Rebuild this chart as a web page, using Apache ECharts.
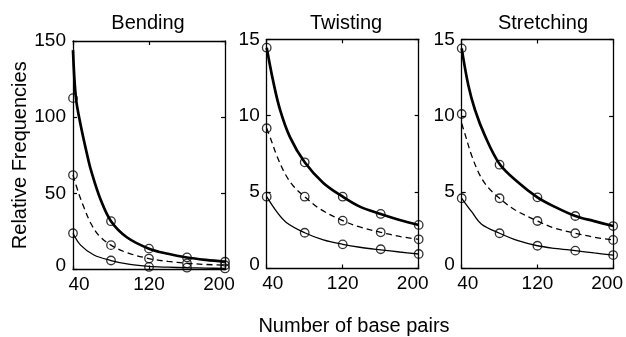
<!DOCTYPE html>
<html>
<head>
<meta charset="utf-8">
<script src="https://cdn.jsdelivr.net/npm/echarts@6/dist/echarts.min.js"></script>
<style>html,body{margin:0;padding:0;background:#fff}#c{width:626px;height:337px}</style>
</head>
<body>
<div id="c"></div>
<script>
// ---- data ----
const panelTitles = ['Bending', 'Twisting', 'Stretching'];
const xMarks = [40, 80, 120, 160, 200];
const xTickLabels = [40, 120, 200];
const bendYTicks = [0, 50, 100, 150];
const smallYTicks = [0, 5, 10, 15];

// Bending
const bendTopMarks = [112.5, 31.7, 13.7, 7.9, 5.1];
const bendMidMarks = [62, 16, 7.2, 4, 2.8];
const bendLowMarks = [23.8, 5.9, 1.7, 1.2, 0.7];
const bendTopCurveX = [40, 43, 48, 55, 59, 69, 80, 97, 120, 140, 160, 180, 200];
const bendTopCurveY = [144, 113, 95, 75, 65, 46, 31.7, 21, 13.7, 10.3, 7.9, 6.3, 5.1];
const bendMidCurveX = [40, 46, 52, 59, 67, 80, 97, 120, 140, 160, 180, 200];
const bendMidCurveY = [62, 50, 40, 30, 22.5, 16, 11, 7.2, 5.3, 4.1, 3.3, 2.8];
const bendLowCurveX = [40, 48, 62, 80, 100, 120, 140, 160, 180, 200];
const bendLowCurveY = [23.8, 16, 9.5, 5.9, 3.3, 2.0, 1.5, 1.15, 0.9, 0.7];

// Twisting
const twistTopMarks = [14.45, 6.95, 4.7, 3.57, 2.85];
const twistMidMarks = [9.18, 4.7, 3.13, 2.37, 1.91];
const twistLowMarks = [4.7, 2.34, 1.58, 1.26, 0.95];
const twistTopCurveX = [40, 47, 54, 64.5, 80, 99.6, 120, 138, 160, 180, 200];
const twistTopCurveY = [14.45, 12.2, 10.4, 8.6, 6.95, 5.6, 4.7, 4.05, 3.57, 3.17, 2.85];
const twistMidCurveX = [40, 45.3, 50.5, 59.3, 68, 80, 96, 120, 138, 160, 180, 200];
const twistMidCurveY = [9.18, 8.3, 7.4, 6.2, 5.4, 4.7, 3.9, 3.13, 2.72, 2.37, 2.1, 1.91];
const twistLowCurveX = [40, 50.5, 61, 80, 99.6, 120, 138, 160, 180, 200];
const twistLowCurveY = [4.7, 3.72, 3.0, 2.34, 1.87, 1.58, 1.39, 1.22, 1.08, 0.95];

// Stretching
const stretchTopMarks = [14.42, 6.8, 4.66, 3.44, 2.78];
const stretchMidMarks = [10.12, 4.6, 3.11, 2.31, 1.87];
const stretchLowMarks = [4.6, 2.31, 1.49, 1.17, 0.88];
const stretchTopCurveX = [40, 47, 54, 64.5, 80, 99.5, 120, 138, 160, 180, 200];
const stretchTopCurveY = [14.42, 12.0, 10.4, 8.7, 6.85, 5.65, 4.66, 4.05, 3.44, 3.1, 2.78];
const stretchMidCurveX = [40, 44, 50.5, 59.3, 68, 80, 96, 120, 138, 160, 180, 200];
const stretchMidCurveY = [9.5, 8.7, 7.4, 6.1, 5.3, 4.6, 3.85, 3.11, 2.65, 2.31, 2.05, 1.87];
const stretchLowCurveX = [40, 50.5, 61, 80, 99.5, 120, 138, 160, 180, 200];
const stretchLowCurveY = [4.6, 3.72, 2.9, 2.31, 1.82, 1.49, 1.32, 1.17, 1.02, 0.88];

// ---- chart ----
const FONT = '"Liberation Sans", Arial, Helvetica, sans-serif';
const zip = (xs, ys) => xs.map((x, i) => [x, ys[i]]);

const panels = [
  { yTicks: bendYTicks,
    marks: [bendTopMarks, bendMidMarks, bendLowMarks],
    curves: [[bendTopCurveX, bendTopCurveY], [bendMidCurveX, bendMidCurveY], [bendLowCurveX, bendLowCurveY]] },
  { yTicks: smallYTicks,
    marks: [twistTopMarks, twistMidMarks, twistLowMarks],
    curves: [[twistTopCurveX, twistTopCurveY], [twistMidCurveX, twistMidCurveY], [twistLowCurveX, twistLowCurveY]] },
  { yTicks: smallYTicks,
    marks: [stretchTopMarks, stretchMidMarks, stretchLowMarks],
    curves: [[stretchTopCurveX, stretchTopCurveY], [stretchMidCurveX, stretchMidCurveY], [stretchLowCurveX, stretchLowCurveY]] }
];

const grids = [
  { left: 73, top: 41, width: 152, height: 228.5 },
  { left: 266.7, top: 39.3, width: 152, height: 229.2 },
  { left: 461.7, top: 39.5, width: 152, height: 229 }
];
const titleCenters = [148, 346, 543];

const axisLine = { show: true, onZero: false, lineStyle: { color: '#000', width: 1.3 } };
const inTick = { show: true, inside: true, length: 4, lineStyle: { color: '#000', width: 1.2 } };

const xAxes = [], yAxes = [], series = [];
panels.forEach((p, i) => {
  const xmin = xTickLabels[0], xmax = xTickLabels[xTickLabels.length - 1];
  const xint = xTickLabels[1] - xTickLabels[0];
  const ymin = p.yTicks[0], ymax = p.yTicks[p.yTicks.length - 1];
  const yint = p.yTicks[1] - p.yTicks[0];
  xAxes.push({
    type: 'value', gridIndex: i, position: 'bottom', min: xmin, max: xmax, interval: xint,
    axisLine, axisTick: inTick, splitLine: { show: false },
    axisLabel: {
      color: '#000', fontSize: 19, fontFamily: FONT, margin: 6,
      formatter: v => v === xmin ? '{a|' + v + '}' : (v === xmax ? '{b|' + v + '}' : String(v)),
      rich: {
        a: { fontSize: 19, fontFamily: FONT, color: '#000', padding: [0, 0, 0, 12] },
        b: { fontSize: 19, fontFamily: FONT, color: '#000', padding: [0, 12, 0, 0] }
      }
    }
  });
  xAxes.push({
    type: 'value', gridIndex: i, position: 'top', min: xmin, max: xmax, interval: xint,
    axisLine, axisTick: inTick, axisLabel: { show: false }, splitLine: { show: false }
  });
  yAxes.push({
    type: 'value', gridIndex: i, position: 'left', min: ymin, max: ymax, interval: yint,
    axisLine, axisTick: inTick, splitLine: { show: false },
    name: i === 0 ? 'Relative Frequencies' : '',
    nameLocation: 'middle', nameGap: 41,
    nameTextStyle: { color: '#000', fontSize: 20, fontFamily: FONT },
    axisLabel: {
      color: '#000', fontSize: 19, fontFamily: FONT, margin: 7,
      formatter: v => v === ymin ? '{z|' + v + '}' : String(v),
      rich: { z: { fontSize: 19, fontFamily: FONT, color: '#000', padding: [0, 0, 7, 0] } }
    }
  });
  yAxes.push({
    type: 'value', gridIndex: i, position: 'right', min: ymin, max: ymax, interval: yint,
    axisLine, axisTick: inTick, axisLabel: { show: false }, splitLine: { show: false }
  });
  const widths = [2.7, 1.3, 1.3];
  const types = ['solid', [6, 4], 'solid'];
  p.curves.forEach((c, k) => {
    series.push({
      type: 'line', xAxisIndex: 2 * i, yAxisIndex: 2 * i, data: zip(c[0], c[1]),
      smooth: 0.35, showSymbol: false, symbol: 'none',
      lineStyle: { color: '#000', width: widths[k], type: types[k] }, z: 2, silent: true
    });
  });
  p.marks.forEach(m => {
    series.push({
      type: 'scatter', xAxisIndex: 2 * i, yAxisIndex: 2 * i, data: zip(xMarks, m),
      symbol: 'circle', symbolSize: 8.5, clip: false,
      itemStyle: { color: 'rgba(0,0,0,0)', borderColor: '#000', borderWidth: 1.3 }, z: 3, silent: true
    });
  });
});

const graphic = panelTitles.map((t, i) => ({
  type: 'text', x: titleCenters[i], y: 23,
  style: { text: t, font: '20px ' + FONT, fill: '#000', textAlign: 'center', textVerticalAlign: 'middle' }
}));
graphic.push({
  type: 'text', x: 354, y: 326,
  style: { text: 'Number of base pairs', font: '20px ' + FONT, fill: '#000', textAlign: 'center', textVerticalAlign: 'middle' }
});

const chart = echarts.init(document.getElementById('c'), null, { renderer: 'canvas' });
chart.setOption({
  backgroundColor: '#fff',
  animation: false,
  grid: grids,
  xAxis: xAxes,
  yAxis: yAxes,
  series,
  graphic
});
</script>
</body>
</html>
